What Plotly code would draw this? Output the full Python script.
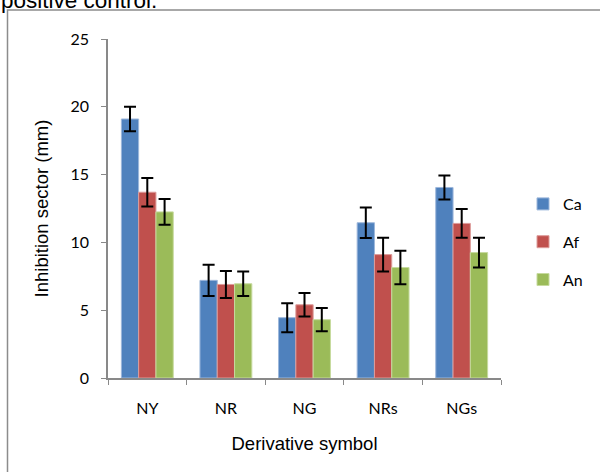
import plotly.graph_objects as go

categories = ["NY", "NR", "NG", "NRs", "NGs"]
series_names = ["Ca", "Af", "An"]
ca_values = [19.1, 7.2, 4.45, 11.45, 14.05]
af_values = [13.7, 6.9, 5.4, 9.1, 11.4]
an_values = [12.25, 6.95, 4.3, 8.15, 9.25]
ca_errors = [0.9, 1.15, 1.07, 1.12, 0.88]
af_errors = [1.05, 1.0, 0.86, 1.24, 1.06]
an_errors = [0.95, 0.9, 0.86, 1.23, 1.1]
y_ticks = [0, 5, 10, 15, 20, 25]

colors = ["#4F81BD", "#C0504D", "#9BBB59"]
edge = ["#9DB7DB", "#DD9C9A", "#C6DA9E"]

fig = go.Figure()
for i, (name, vals, errs) in enumerate(zip(series_names,
                                          [ca_values, af_values, an_values],
                                          [ca_errors, af_errors, an_errors])):
    fig.add_trace(go.Bar(
        x=categories, y=vals, name=name, legendgroup=name,
        marker=dict(color=colors[i], line=dict(color=edge[i], width=1)),
        error_y=dict(type="data", array=errs, visible=True,
                     color="black", thickness=2, width=6),
    ))

fig.update_layout(
    width=600, height=472,
    margin=dict(l=108, r=99, t=39, b=94, autoexpand=False),
    paper_bgcolor="white", plot_bgcolor="white",
    barmode="group", bargap=0.34, bargroupgap=0,
    font=dict(family="Lato, Carlito, sans-serif", size=16, color="black"),
    legend=dict(x=(523 - 108) / 393, y=1 - (187 - 39) / 339,
                xanchor="left", yanchor="top",
                tracegroupgap=14, font=dict(size=16),
                bgcolor="rgba(0,0,0,0)"),
    xaxis=dict(
        showline=True, linecolor="#898989", linewidth=1.5,
        ticks="outside", tickson="boundaries", ticklen=5, tickcolor="#898989",
        tickfont=dict(size=16), ticklabelstandoff=15,
        title=dict(text="Derivative symbol",
                   font=dict(family="Liberation Sans, Arial", size=18.5),
                   standoff=21),
    ),
    yaxis=dict(
        range=[0, 25], tickvals=y_ticks, showgrid=False, zeroline=False,
        showline=True, linecolor="#898989", linewidth=1.5,
        ticks="outside", ticklen=5, tickcolor="#898989",
        tickfont=dict(size=16), ticklabelstandoff=9,
        title=dict(text="Inhibition sector (mm)",
                   font=dict(family="Liberation Sans, Arial", size=18.5),
                   standoff=17),
    ),
)

fig.add_shape(type="rect", xref="paper", yref="paper",
              x0=(7.5 - 108) / 393, x1=(612 - 108) / 393,
              y0=1 - (485 - 39) / 339, y1=1 + (39 - 10) / 339,
              line=dict(color="#8C8C8C", width=1.5), layer="below")

fig.add_annotation(text="positive control.", xref="paper", yref="paper",
                   x=(-1 - 108) / 393, y=1 + (39 - 0) / 339,
                   xanchor="left", yanchor="middle", showarrow=False,
                   font=dict(family="Liberation Sans, Arial", size=22.5, color="black"))

fig.write_html("out.html", config={"displayModeBar": False},
               post_script="document.body.style.margin='0';document.body.style.overflow='hidden';")
